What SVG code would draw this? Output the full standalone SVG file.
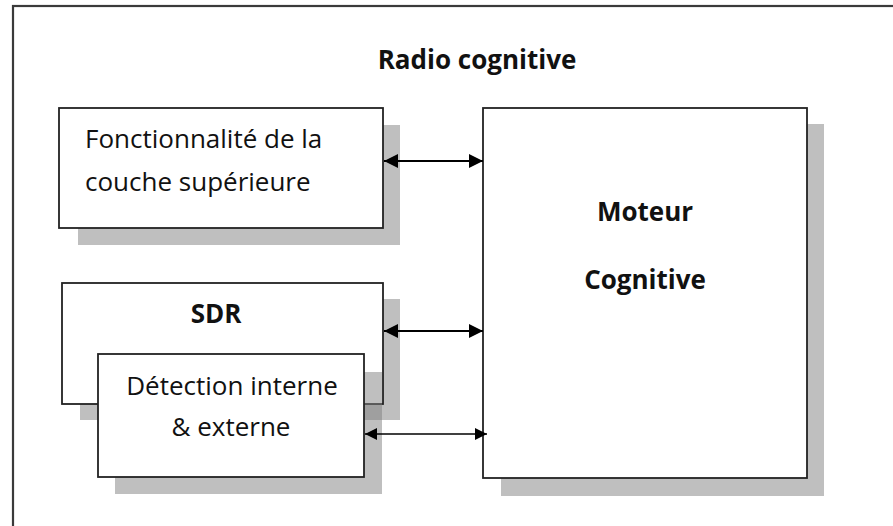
<svg xmlns="http://www.w3.org/2000/svg" width="893" height="526" viewBox="0 0 893 526">
<defs>
<style>
.frame{fill:none;stroke:#3a3a3a;stroke-width:2.2}
.box{fill:#fff;stroke:#222;stroke-width:1.8}
.shadow{fill:#808080;fill-opacity:0.5}
.t{font-family:"Open Sans","Noto Sans",sans-serif;font-size:26px;fill:#111}
.b{font-weight:bold}
.c{text-anchor:middle}
.conn{stroke:#000;stroke-width:2;fill:none}
.conn2{stroke:#000;stroke-width:1.5;fill:none}
</style>
<marker id="ah" viewBox="0 0 10 10" refX="10" refY="5" markerWidth="8.5" markerHeight="7" orient="auto-start-reverse" markerUnits="strokeWidth">
<path d="M0,0 L10,5 L0,10 z" fill="#000"/>
</marker>
<marker id="ah2" viewBox="0 0 10 10" refX="10" refY="5" markerWidth="9.5" markerHeight="8" orient="auto-start-reverse" markerUnits="strokeWidth">
<path d="M0,0 L10,5 L0,10 z" fill="#000"/>
</marker>
</defs>
<rect width="893" height="526" fill="#fff"/>
<g id="frame">
<rect class="frame" x="13" y="6" width="900" height="540"/>
<text class="t b c" x="477" y="69">Radio cognitive</text>
</g>
<g id="fonctionnalite">
<rect class="shadow" x="78" y="125" width="322" height="120"/>
<rect class="box" x="59" y="108" width="324" height="120"/>
<text class="t" x="85" y="148">Fonctionnalité de la</text>
<text class="t" x="85" y="191">couche supérieure</text>
</g>
<g id="moteur">
<rect class="shadow" x="501" y="124" width="323" height="372"/>
<rect class="box" x="483" y="108" width="324" height="370"/>
<text class="t b c" x="645" y="221">Moteur</text>
<text class="t b c" x="645" y="289">Cognitive</text>
</g>
<g id="sdr">
<rect class="shadow" x="80" y="299" width="320" height="121"/>
<rect class="box" x="62" y="283" width="321" height="121"/>
<text class="t b c" x="216" y="323">SDR</text>
</g>
<g id="detection">
<rect class="shadow" x="115" y="372" width="267" height="122"/>
<rect class="box" x="98" y="354" width="266" height="123"/>
<text class="t c" x="232" y="395">Détection interne</text>
<text class="t c" x="231" y="436">&amp; externe</text>
</g>
<g id="connectors">
<line class="conn" x1="384" y1="161" x2="483" y2="161" marker-start="url(#ah)" marker-end="url(#ah)"/>
<line class="conn" x1="384" y1="331" x2="483" y2="331" marker-start="url(#ah)" marker-end="url(#ah)"/>
<line class="conn2" x1="365" y1="434" x2="487" y2="434" marker-start="url(#ah2)" marker-end="url(#ah2)"/>
</g>
</svg>
